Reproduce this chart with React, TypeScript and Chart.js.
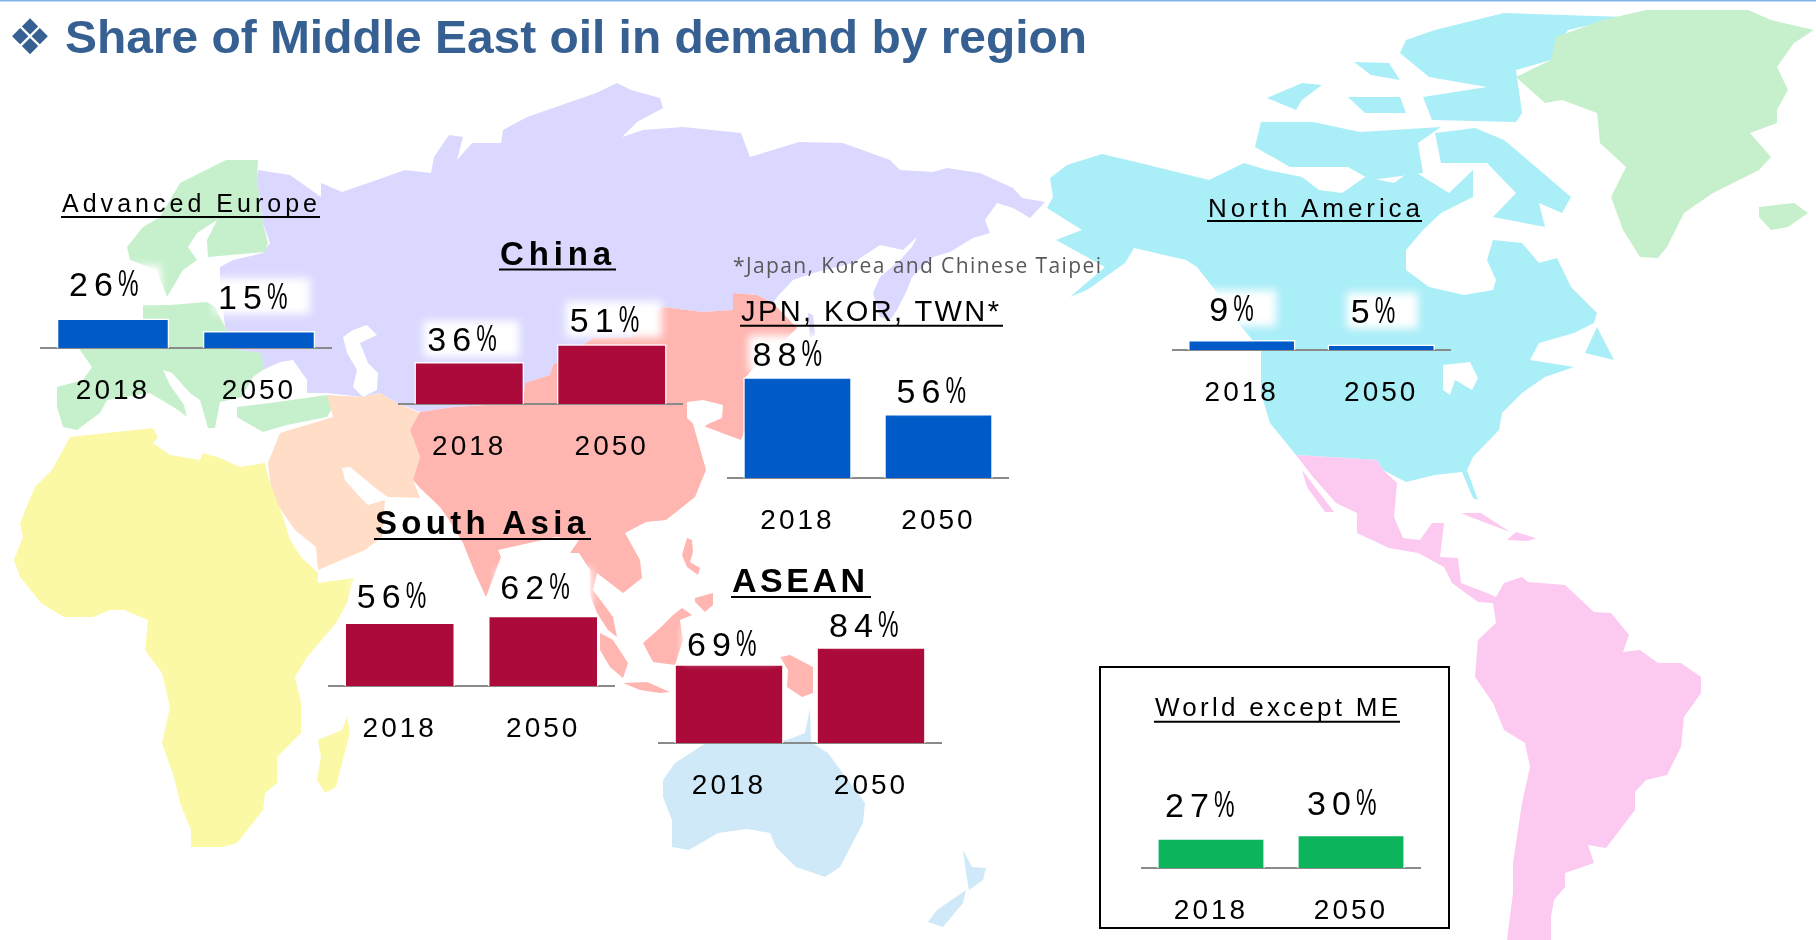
import React, { useEffect, useRef } from "react";
import { Chart, registerables } from "chart.js";

Chart.register(...registerables);

const years = ["2018", "2050"];
const europeValues = [26, 15];
const chinaValues = [36, 51];
const japanKoreaTaiwanValues = [88, 56];
const northAmericaValues = [9, 5];
const southAsiaValues = [56, 62];
const aseanValues = [69, 84];
const worldValues = [27, 30];

const BLUE = "#005BC8";
const CRIMSON = "#AB0A3A";
const GREEN = "#0CB45C";

const PLOT_H = 170;
const BOTTOM_H = 65;

const panels = [
  { values: europeValues, color: BLUE, x0: 40, x1: 332, axisY: 348, scale: 1.13, gaps: [35, 35], dx: [-9, -6], halo: true },
  { values: chinaValues, color: CRIMSON, x0: 398, x1: 683, axisY: 404, scale: 1.17, gaps: [23, 25], dx: [-7, -7], halo: true },
  { values: japanKoreaTaiwanValues, color: BLUE, x0: 727, x1: 1009, axisY: 478, scale: 1.145, gaps: [24, 23], dx: [-10, -7], halo: true },
  { values: northAmericaValues, color: BLUE, x0: 1172, x1: 1451, axisY: 350, scale: 1.1, gaps: [32, 34], dx: [-10, -8], halo: true },
  { values: southAsiaValues, color: CRIMSON, x0: 328, x1: 615, axisY: 686, scale: 1.135, gaps: [27, 29], dx: [-8, -8], halo: true },
  { values: aseanValues, color: CRIMSON, x0: 658, x1: 942, axisY: 743, scale: 1.14, gaps: [21, 23], dx: [-7, -7], halo: true },
  { values: worldValues, color: GREEN, x0: 1141, x1: 1421, axisY: 868, scale: 1.105, gaps: [34, 32], dx: [-11, -9], halo: false },
];

const headings = [
  { text: "Advanced Europe", x: 62, w: 255, base: 212, uy: 217, ux: 320, size: 25, weight: 400 },
  { text: "China", x: 500, w: 111, base: 265, uy: 269.5, ux: 616, size: 33, weight: 700 },
  { text: "JPN, KOR, TWN*", x: 741, w: 258, base: 320.7, uy: 325.7, ux: 1003, size: 29, weight: 400 },
  { text: "North America", x: 1208, w: 212, base: 216.7, uy: 221, ux: 1422, size: 26, weight: 400 },
  { text: "South Asia", x: 375, w: 210, base: 534, uy: 539, ux: 591, size: 33, weight: 700 },
  { text: "ASEAN", x: 732, w: 133, base: 592, uy: 597, ux: 871, size: 34, weight: 700 },
  { text: "World except ME", x: 1155, w: 243, base: 716, uy: 721.7, ux: 1400, size: 26, weight: 400 },
];

const LAV = "#DAD8FE";
const EUR = "#C6F0CC";
const AFR = "#FBF8A6";
const MID = "#FFDDC6";
const ASI = "#FFB5B0";
const NAM = "#AAEEF8";
const LAT = "#FCC9F0";
const OCE = "#D0E9F8";

const mapShapes: { fill: string; pts: string }[] = [
  { fill: LAV, pts: "258,170 290,175 321,197 321,183 342,192 371,182 405,170 431,173 434,157 449,135 463,137 457,160 472,143 501,143 503,130 527,117 556,107 596,93 617,83 631,90 660,98 663,108 637,122 622,137 643,130 683,127 741,133 750,157 799,142 843,143 890,160 900,170 933,172 947,168 980,173 1013,188 1022,198 1045,202 1030,218 1013,208 997,203 985,220 990,233 973,238 950,252 933,257 912,277 907,290 897,310 890,320 880,317 873,293 880,277 900,260 912,247 917,237 903,250 880,245 853,263 813,273 793,280 777,297 773,303 757,295 733,293 733,310 703,312 663,307 653,313 633,337 593,338 580,347 553,365 550,375 525,383 523,403 453,407 420,412 397,403 380,393 363,397 327,393 307,393 307,380 293,360 280,362 263,370 260,353 237,350 225,327 220,280 220,267 233,260 263,253 270,243 263,223 257,180" },
  { fill: "#FFFFFF", pts: "343,337 353,330 367,325 377,335 360,343 368,363 378,373 377,390 363,397 353,387 357,370 347,353" },
  { fill: LAV, pts: "808,313 813,315 815,335 810,338" },
  { fill: EUR, pts: "226,160 258,160 257,180 263,223 268,243 265,252 208,257 207,240 217,220 197,233 188,247 197,260 183,270 167,297 157,270 130,260 127,247 143,227 160,217 180,183" },
  { fill: EUR, pts: "143,305 170,305 207,302 215,307 225,327 237,350 262,353 263,370 253,377 242,397 220,402 215,428 208,428 200,400 190,393 172,373 163,370 170,385 184,405 187,417 178,410 150,393 107,400 100,413 77,430 63,427 57,407 57,387 83,380 92,367 80,350 80,340 143,320" },
  { fill: EUR, pts: "237,407 270,403 327,395 333,407 327,417 287,425 263,432 247,423 237,417" },
  { fill: MID, pts: "327,395 363,397 380,393 397,403 420,413 410,430 420,457 413,480 420,498 388,497 378,490 350,467 342,468 345,480 358,495 368,505 385,500 382,537 365,550 318,570 316,547 295,530 272,497 268,463 280,433 333,417" },
  { fill: ASI, pts: "733,293 757,295 773,303 797,328 780,345 760,360 745,378 745,430 741,440 706,427 683,417 700,403 690,413 706,470 695,497 666,520 646,522 625,533 640,560 642,578 623,593 597,573 593,590 613,617 617,637 608,630 597,613 590,595 590,570 579,553 570,553 579,540 556,537 498,550 501,557 486,597 475,573 463,543 447,517 440,507 420,488 413,480 420,457 410,430 420,412 453,407 523,403 525,383 550,375 553,365 580,347 593,338 633,337 653,313 663,307 703,312 733,310" },
  { fill: "#FFFFFF", pts: "687,402 703,400 723,405 722,418 708,424 700,430 687,418" },
  { fill: ASI, pts: "687,538 692,540 693,552 690,562 700,568 698,575 687,567 682,555" },
  { fill: ASI, pts: "695,598 713,593 713,605 705,612 695,602" },
  { fill: ASI, pts: "682,608 692,615 680,620 683,640 675,665 653,662 643,643 660,628 673,615" },
  { fill: ASI, pts: "600,633 613,640 628,663 623,678 610,667 600,650" },
  { fill: ASI, pts: "623,683 647,682 670,692 660,693 640,690" },
  { fill: ASI, pts: "780,657 790,655 813,667 813,693 802,697 787,687 788,670" },
  { fill: AFR, pts: "70,437 153,428 158,437 153,443 170,455 200,460 203,453 220,458 240,467 265,463 269,480 284,520 290,540 301,557 318,573 318,583 354,578 347,603 336,623 307,657 295,677 301,703 301,733 277,757 277,783 265,793 263,810 237,843 223,847 191,847 191,830 180,803 174,777 162,743 170,707 162,673 145,650 148,620 124,610 110,610 93,617 64,617 41,603 20,577 14,560 23,537 20,523 35,487 52,470" },
  { fill: AFR, pts: "318,740 342,730 347,717 350,733 342,763 336,787 325,793 317,780 321,757" },
  { fill: OCE, pts: "706,743 675,763 663,780 663,797 672,820 672,847 689,850 718,833 747,829 770,833 776,847 796,867 825,877 840,867 863,823 865,803 828,753 811,742 810,708 805,733 787,740" },
  { fill: OCE, pts: "963,850 972,867 986,868 983,880 969,890 966,873" },
  { fill: OCE, pts: "966,890 963,903 943,927 928,922 937,910" },
  { fill: NAM, pts: "1050,178 1067,165 1102,154 1140,163 1209,180 1244,163 1267,170 1302,177 1319,190 1342,193 1365,177 1394,183 1412,170 1449,193 1473,170 1473,197 1441,213 1423,230 1406,250 1406,270 1429,287 1464,295 1493,290 1496,280 1487,260 1493,240 1522,243 1539,263 1557,258 1571,287 1597,313 1594,323 1574,333 1539,343 1530,360 1574,367 1545,377 1522,393 1502,413 1499,430 1473,457 1467,470 1478,500 1473,498 1462,472 1435,475 1406,482 1383,470 1377,460 1296,455 1270,423 1261,393 1261,350 1244,330 1215,290 1197,267 1186,260 1134,248 1125,263 1087,290 1070,297 1105,267 1056,240 1082,230 1047,208 1053,197" },
  { fill: "#FFFFFF", pts: "1443,365 1470,362 1478,378 1472,390 1455,380 1450,395 1443,390" },
  { fill: NAM, pts: "1585,353 1597,327 1614,360" },
  { fill: NAM, pts: "1435,133 1475,128 1504,140 1536,167 1571,197 1562,213 1539,203 1545,227 1493,217 1516,193 1487,163 1441,163" },
  { fill: NAM, pts: "1261,122 1313,122 1360,132 1441,127 1418,143 1423,173 1371,180 1348,167 1290,167 1255,147" },
  { fill: NAM, pts: "1267,98 1302,83 1322,85 1302,100 1296,110" },
  { fill: NAM, pts: "1348,97 1400,97 1406,113 1365,113" },
  { fill: NAM, pts: "1406,40 1435,30 1504,13 1626,17 1568,30 1551,60 1516,70 1522,113 1516,122 1432,120 1423,97 1487,87 1429,77 1400,53" },
  { fill: NAM, pts: "1354,62 1389,63 1400,80 1371,75" },
  { fill: EUR, pts: "1646,10 1748,10 1771,20 1814,30 1794,43 1777,67 1788,90 1777,110 1777,123 1750,133 1771,157 1759,170 1713,193 1684,213 1667,247 1658,258 1640,257 1623,230 1611,197 1626,167 1600,143 1597,113 1562,100 1545,103 1516,77 1551,60 1556,37 1603,20" },
  { fill: EUR, pts: "1759,207 1794,203 1808,213 1788,227 1771,230 1759,217" },
  { fill: LAT, pts: "1302,470 1334,512 1325,512 1307,487" },
  { fill: LAT, pts: "1296,455 1377,460 1383,470 1397,483 1394,517 1403,538 1420,540 1432,523 1444,523 1440,557 1458,558 1461,583 1487,593 1496,597 1504,583 1522,577 1528,582 1565,585 1594,612 1611,613 1629,635 1623,652 1640,650 1658,663 1681,663 1701,677 1701,693 1684,717 1681,747 1667,775 1646,780 1635,792 1635,810 1606,848 1588,845 1594,863 1565,873 1565,887 1554,900 1551,917 1551,940 1507,940 1513,893 1513,863 1522,803 1530,767 1525,743 1504,730 1493,703 1475,677 1478,640 1496,623 1493,603 1478,602 1452,583 1444,567 1418,553 1389,548 1357,533 1357,513 1336,503 1313,477" },
  { fill: LAT, pts: "1461,513 1481,513 1510,532 1473,518" },
  { fill: LAT, pts: "1507,540 1516,532 1536,538 1528,541" },
];

function SmallChart({ panel }: { panel: (typeof panels)[number] }) {
  const ref = useRef<HTMLCanvasElement | null>(null);
  useEffect(() => {
    const canvas = ref.current;
    if (!canvas) return;
    const textSpacing = {
      id: "textSpacing",
      beforeDraw(c: any) {
        c.ctx.letterSpacing = "3px";
      },
    };
    const valueLabels = {
      id: "valueLabels",
      afterDatasetsDraw(c: any) {
        const ctx = c.ctx;
        const els = c.getDatasetMeta(0).data;
        els.forEach((el: any, i: number) => {
          const digits = String(panel.values[i]);
          const advance = 25;
          const pctW = 18;
          const total = digits.length * advance + pctW;
          const cx = el.x + panel.dx[i];
          const cy = el.y - panel.gaps[i];
          const left = cx - total / 2;
          ctx.save();
          if (panel.halo) {
            ctx.filter = "blur(4px)";
            ctx.fillStyle = "#FFFFFF";
            ctx.fillRect(left - 5, cy - 18, total + 28, 36);
            ctx.filter = "none";
          }
          ctx.letterSpacing = "0px";
          ctx.font = '34px "Liberation Sans"';
          ctx.fillStyle = "#000000";
          ctx.textAlign = "left";
          ctx.textBaseline = "alphabetic";
          const base = cy + 12.5;
          digits.split("").forEach((d, k) => ctx.fillText(d, left + k * advance - 1, base));
          const pctX = left + digits.length * advance - 2;
          ctx.translate(pctX, base);
          ctx.scale(0.68, 1.08);
          ctx.fillText("%", 0, 0);
          ctx.restore();
        });
      },
    };
    const chart = new Chart(canvas, {
      type: "bar",
      data: {
        labels: years,
        datasets: [
          {
            data: panel.values,
            backgroundColor: panel.color,
            borderColor: "#FFFFFF",
            borderWidth: 1.5,
            borderSkipped: "bottom",
            barPercentage: 0.77,
            categoryPercentage: 1,
          },
        ],
      },
      options: {
        animation: false,
        responsive: false,
        events: [],
        layout: { padding: 0 },
        plugins: { legend: { display: false }, tooltip: { enabled: false }, title: { display: false } },
        scales: {
          x: {
            grid: { display: false, drawTicks: false },
            border: { display: true, color: "#8A8A8A", width: 2 },
            ticks: {
              color: "#000000",
              padding: 26,
              maxRotation: 0,
              font: { family: '"Liberation Sans"', size: 28 },
            },
            afterFit(s: any) {
              s.height = BOTTOM_H;
            },
          },
          y: { display: false, min: 0, max: PLOT_H / panel.scale },
        },
      },
      plugins: [textSpacing, valueLabels],
    } as any);
    return () => chart.destroy();
  }, [panel]);
  return (
    <canvas
      ref={ref}
      width={panel.x1 - panel.x0}
      height={PLOT_H + BOTTOM_H}
      style={{ position: "absolute", left: panel.x0, top: panel.axisY - PLOT_H, display: "block" }}
    />
  );
}

export default function App() {
  return (
    <div style={{ position: "absolute", left: 0, top: 0, width: 1816, height: 940, overflow: "hidden", background: "#FFFFFF" }}>
      <svg width={1816} height={940} style={{ position: "absolute", left: 0, top: 0 }}>
        <rect x={0} y={0} width={1816} height={1.5} fill="#7FB6EA" />
        {mapShapes.map((s, i) => (
          <polygon key={i} points={s.pts} fill={s.fill} />
        ))}
      </svg>
      {panels.map((p, i) => (
        <SmallChart key={i} panel={p} />
      ))}
      <svg width={1816} height={940} style={{ position: "absolute", left: 0, top: 0, pointerEvents: "none" }}>
        <text x={8} y={54} fontFamily='"DejaVu Sans"' fontSize={49} fill="#366092">❖</text>
        <text x={65} y={53} textLength={1022} lengthAdjust="spacingAndGlyphs" fontFamily='"Liberation Sans"' fontWeight={700} fontSize={47} fill="#366092">
          Share of Middle East oil in demand by region
        </text>
        <text x={733} y={273} textLength={368} fontFamily='"Open Sans"' fontSize={21} fill="#595959">
          *Japan, Korea and Chinese Taipei
        </text>
        {headings.map((h, i) => (
          <g key={i}>
            <text x={h.x} y={h.base} textLength={h.w} fontFamily='"Liberation Sans"' fontWeight={h.weight} fontSize={h.size} fill="#000000">
              {h.text}
            </text>
            <line x1={h.x - 1} x2={h.ux} y1={h.uy} y2={h.uy} stroke="#000000" strokeWidth={2} />
          </g>
        ))}
        <rect x={1100} y={667} width={349} height={261} fill="none" stroke="#000000" strokeWidth={2} />
      </svg>
    </div>
  );
}
